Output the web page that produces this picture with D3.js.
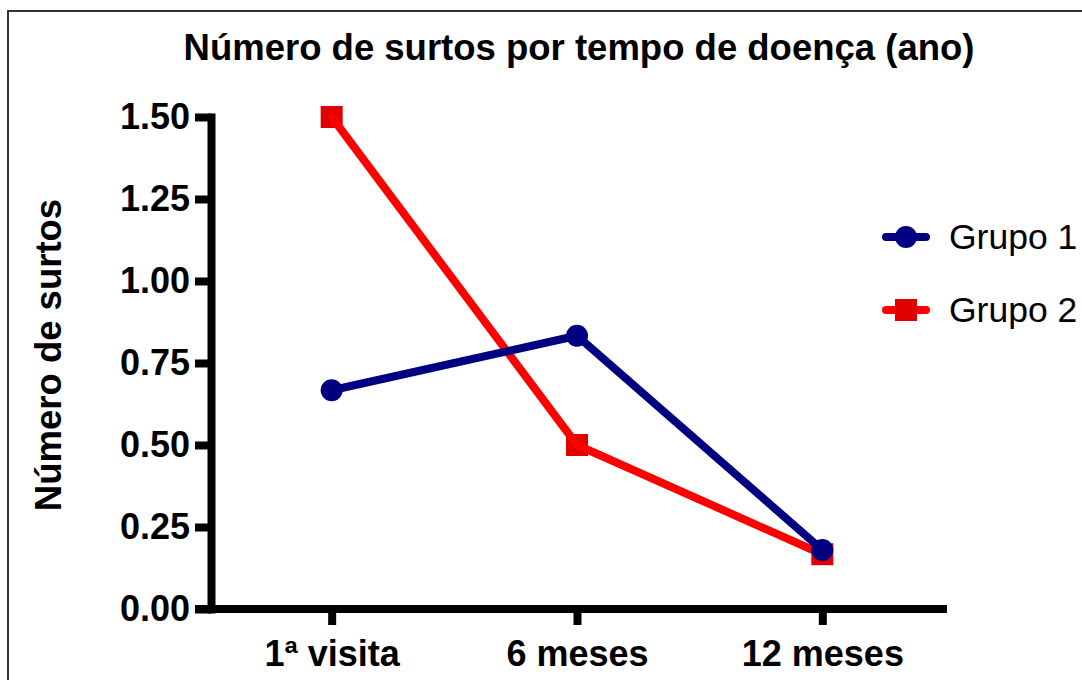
<!DOCTYPE html>
<html>
<head>
<meta charset="utf-8">
<script src="https://cdn.jsdelivr.net/npm/d3@7"></script>
<style>
  html, body { margin: 0; padding: 0; background: #fff; }
  svg { display: block; font-family: "Liberation Sans", Arial, sans-serif; }
</style>
</head>
<body>
<svg id="chart" width="1082" height="680"></svg>
<script>
const categories = ["1ª visita", "6 meses", "12 meses"];
const grupo1 = [0.667, 0.833, 0.18];
const grupo2 = [1.5, 0.5, 0.167];
const seriesNames = ["Grupo 1", "Grupo 2"];
const yTicks = [0, 0.25, 0.5, 0.75, 1.0, 1.25, 1.5];
const titleText = "Número de surtos por tempo de doença (ano)";
const yLabelText = "Número de surtos";

const svg = d3.select("#chart");
const BLUE = "#000080", RED = "#ff0000", RED_MARK = "#e00000";

// frame
svg.append("rect").attr("x", 8).attr("y", 11).attr("width", 1100).attr("height", 720)
  .attr("fill", "none").attr("stroke", "#333").attr("stroke-width", 2);

const x = d3.scalePoint().domain(categories).range([209, 945]).padding(0.5);
const y = d3.scaleLinear().domain([0, 1.5]).range([609, 117]);

// title
svg.append("text").attr("x", 579).attr("y", 60).attr("text-anchor", "middle")
  .attr("font-size", 36.5).attr("font-weight", "bold").text(titleText);

// y label
svg.append("text").attr("transform", "translate(61,355) rotate(-90)")
  .attr("text-anchor", "middle").attr("font-size", 36.5).attr("font-weight", "bold")
  .text(yLabelText);

// y axis
const yAxis = svg.append("g").attr("transform", "translate(211,0)")
  .call(d3.axisLeft(y).tickValues(yTicks).tickFormat(d3.format(".2f")).tickSize(16).tickSizeOuter(0).tickPadding(5));
yAxis.select(".domain").attr("stroke", "#000").attr("stroke-width", 8).attr("stroke-linecap", "square");
yAxis.selectAll(".tick line").attr("stroke", "#000").attr("stroke-width", 8);
yAxis.selectAll(".tick text").attr("font-size", 36).attr("font-weight", "bold")
  .attr("font-family", "Liberation Sans, Arial, sans-serif").attr("fill", "#000");

// x axis
const xAxis = svg.append("g").attr("transform", "translate(0,609)")
  .call(d3.axisBottom(x).tickSize(16).tickSizeOuter(0).tickPadding(15));
xAxis.select(".domain").attr("d", "M195,0H947").attr("stroke", "#000").attr("stroke-width", 8);
xAxis.selectAll(".tick line").attr("stroke", "#000").attr("stroke-width", 8);
xAxis.selectAll(".tick text").attr("font-size", 36).attr("font-weight", "bold")
  .attr("font-family", "Liberation Sans, Arial, sans-serif").attr("fill", "#000");

const line = d3.line().x((d, i) => x(categories[i])).y(d => y(d));

// Grupo 2 markers then line
svg.append("g").selectAll("rect").data(grupo2).join("rect")
  .attr("x", (d, i) => x(categories[i]) - 11).attr("y", d => y(d) - 11)
  .attr("width", 22).attr("height", 22).attr("fill", RED_MARK);
svg.append("path").datum(grupo2).attr("d", line).attr("fill", "none")
  .attr("stroke", RED).attr("stroke-width", 8).attr("stroke-linejoin", "round").attr("stroke-linecap", "round");

// Grupo 1
svg.append("path").datum(grupo1).attr("d", line).attr("fill", "none")
  .attr("stroke", BLUE).attr("stroke-width", 8).attr("stroke-linejoin", "round").attr("stroke-linecap", "round");
svg.append("g").selectAll("circle").data(grupo1).join("circle")
  .attr("cx", (d, i) => x(categories[i])).attr("cy", d => y(d)).attr("r", 11).attr("fill", BLUE);

// legend
const legend = svg.append("g");
const legY = [237, 310];
seriesNames.forEach((name, i) => {
  const g = legend.append("g").attr("transform", `translate(0,${legY[i]})`);
  g.append("line").attr("x1", 886).attr("x2", 926).attr("y1", 0).attr("y2", 0)
    .attr("stroke", i === 0 ? BLUE : RED).attr("stroke-width", 8).attr("stroke-linecap", "round");
  if (i === 0) g.append("circle").attr("cx", 906).attr("cy", 0).attr("r", 11).attr("fill", BLUE);
  else g.append("rect").attr("x", 895).attr("y", -11).attr("width", 22).attr("height", 22).attr("fill", RED_MARK);
  g.append("text").attr("x", 949).attr("y", 12).attr("font-size", 35.5).attr("fill", "#000").text(name);
});
</script>
</body>
</html>
